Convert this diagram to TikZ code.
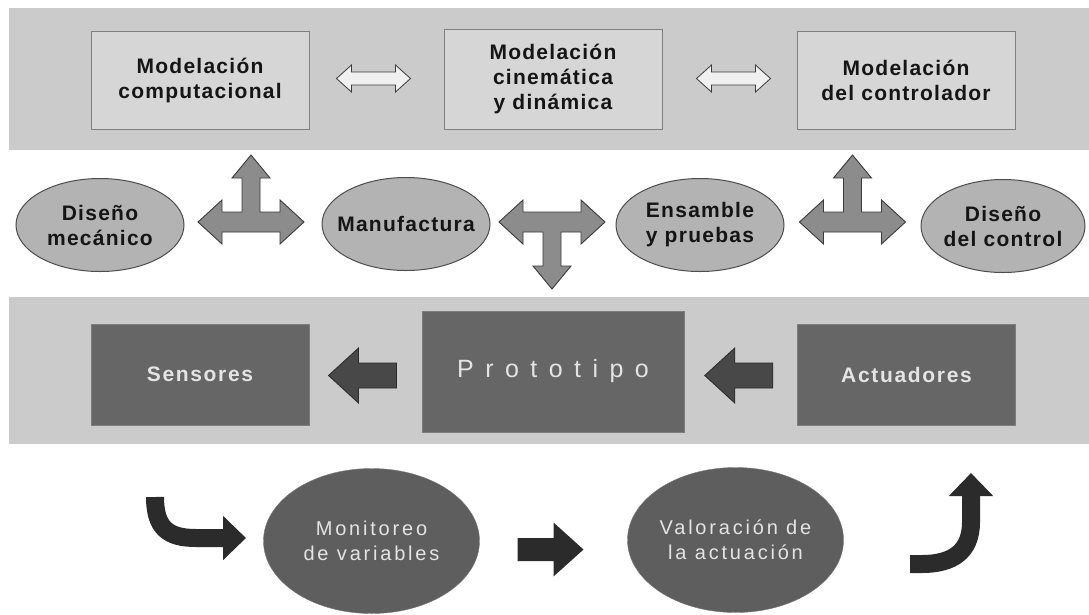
\documentclass[tikz,border=0pt]{standalone}
\usepackage{fontspec}
\setmainfont{Liberation Sans}
\newfontfamily\boxfont[LetterSpace=6]{Liberation Sans}
\newfontfamily\darkfont[LetterSpace=8]{Liberation Sans}
\newfontfamily\protofont[LetterSpace=18]{Liberation Sans}
\newfontfamily\ovalfont[LetterSpace=14]{Liberation Sans}
\usepackage{tikz}
\usetikzlibrary{positioning,calc,shapes.geometric,arrows.meta}

\definecolor{bandgray}{HTML}{CBCBCB}
\definecolor{boxgray}{HTML}{D6D6D6}
\definecolor{boxline}{HTML}{7F7F7F}
\definecolor{ovalgray}{HTML}{B3B3B3}
\definecolor{ovalline}{HTML}{4D4D4D}
\definecolor{teegray}{HTML}{8C8C8C}
\definecolor{teeline}{HTML}{3A3A3A}
\definecolor{darkgray}{HTML}{666666}
\definecolor{arrowdark}{HTML}{484848}
\definecolor{arrowline}{HTML}{2A2A2A}
\definecolor{lowgray}{HTML}{5E5E5E}
\definecolor{blackink}{HTML}{2B2B2B}
\definecolor{inkdark}{HTML}{151515}
\definecolor{inklight}{HTML}{E4E4E4}

\tikzset{
	% block arrows, drawn round their centre
	teeup/.pic={
		\draw[teearrow] (-53,0) -- (-29,-22) -- (-29,-10) -- (-9,-10) -- (-9,-44)
			-- (-19,-44) -- (0,-67) -- (19,-44) -- (9,-44) -- (9,-10) -- (29,-10)
			-- (29,-22) -- (53,0) -- (29,22) -- (29,10) -- (-29,10) -- (-29,22) -- cycle;
	},
	twoway/.pic={
		\draw[hollowarrow] (-37,0) -- (-22,-13.5) -- (-22,-6.5) -- (22,-6.5) -- (22,-13.5)
			-- (37,0) -- (22,13.5) -- (22,6.5) -- (-22,6.5) -- (-22,13.5) -- cycle;
	},
	leftblock/.pic={
		\draw[darkarrow] (-34,0) -- (-4,-27.5) -- (-4,-12.5) -- (34,-12.5) -- (34,12.5)
			-- (-4,12.5) -- (-4,27.5) -- cycle;
	},
	rightblock/.pic={
		\fill[blackink] (-33,-11.5) -- (3,-11.5) -- (3,-27) -- (33,0) -- (3,27)
			-- (3,11.5) -- (-33,11.5) -- cycle;
	}
}

\begin{document}
\begin{tikzpicture}[
		x=1pt, y=-1pt,
		band/.style={fill=bandgray},
		topbox/.style={
			draw=boxline,
			fill=boxgray,
			line width=1pt,
			minimum width=218pt,
			minimum height=98pt,
			align=center,
			text=inkdark,
			font=\boxfont\bfseries\fontsize{21}{25}\selectfont
		},
		midoval/.style={
			ellipse,
			draw=ovalline,
			fill=ovalgray,
			line width=1pt,
			minimum width=168pt,
			minimum height=93pt,
			label={[align=center, text=inkdark,
				font=\boxfont\bfseries\fontsize{21}{25}\selectfont]center:#1}
		},
		darkbox/.style={
			draw=darkgray!85!white,
			fill=darkgray,
			minimum width=218pt,
			minimum height=101pt,
			text=inklight,
			font=\darkfont\bfseries\fontsize{21}{25}\selectfont
		},
		lowoval/.style={
			ellipse,
			draw=lowgray!85!white,
			fill=lowgray,
			minimum width=216pt,
			minimum height=145pt,
			label={[align=center, text=inklight,
				font=\ovalfont\fontsize{20}{25}\selectfont]center:#1}
		},
		hollowarrow/.style={draw=teeline, fill=white!94!black, line width=0.8pt},
		darkarrow/.style={draw=arrowline, fill=arrowdark, line width=0.8pt},
		teearrow/.style={draw=teeline, fill=teegray, line width=0.9pt, line join=miter},
		curvearrow/.style={draw=blackink, line width=18pt,
			-{Triangle[width=43pt, length=23pt]}}
	]
	\useasboundingbox (0,0) rectangle (1089,614);

	% grey bands
	\fill[band] (9,8) rectangle (1089,150);
	\fill[band] (9,297) rectangle (1089,444);

	% modelling row
	\node[topbox] (mcomp) at (200,80) {Modelación\\computacional};
	\node[topbox, minimum height=100pt] (mcin) at (553,79) {Modelación\\cinemática\\y dinámica};
	\node[topbox] (mctrl) at (906,80) {Modelación\\del controlador};

	\pic at ($(mcomp.east)!0.5!(mcin.west)+(-3,-1)$) {twoway};
	\pic at ($(mcin.east)!0.5!(mctrl.west)+(4,-1)$) {twoway};

	% design row
	\node[midoval={Diseño\\mecánico}] (dmec) at (100,225) {};
	\node[midoval={Manufactura}] (manu) at (406,224) {};
	\node[midoval={Ensamble\\y pruebas}] (ens) at (700,225) {};
	\node[midoval={Diseño\\del control}, minimum width=164pt] (dctrl) at (1003,226) {};

	\pic at ($(dmec.east)!0.5!(manu.west)+(-2,-2.5)$) {teeup};
	\pic[yscale=-1] at ($(manu.east)!0.5!(ens.west)+(-1,-2.5)$) {teeup};
	\pic at ($(ens.east)!0.5!(dctrl.west)+(0,-3.5)$) {teeup};

	% prototype row
	\node[darkbox] (sens) at (200,374.5) {Sensores};
	\node[darkbox, minimum width=262pt, minimum height=121pt,
		font=\protofont\fontsize{25}{30}\selectfont] (proto) at (553,371.5) {P r o t o t i p o};
	\node[darkbox] (act) at (906.5,374.5) {Actuadores};

	\pic at ($(sens.east)!0.5!(proto.west)+(-3,2.5)$) {leftblock};
	\pic at ($(proto.east)!0.5!(act.west)+(-2,2.5)$) {leftblock};

	% evaluation row
	\node[lowoval={Monitoreo\\de variables}] (moni) at (371.5,541) {};
	\node[lowoval={Valoración de\\la actuación}] (valo) at (735.5,540) {};

	\pic at ($(moni.east)!0.5!(valo.west)+(-3,9)$) {rightblock};

	\draw[curvearrow] (155,497) .. controls (155,528) and (168,538) .. (196,538) -- (246,538);
	\draw[curvearrow] (910,564) -- (922,564) .. controls (952,564) and (971,552) .. (971,522) -- (971,473);
\end{tikzpicture}
\end{document}
